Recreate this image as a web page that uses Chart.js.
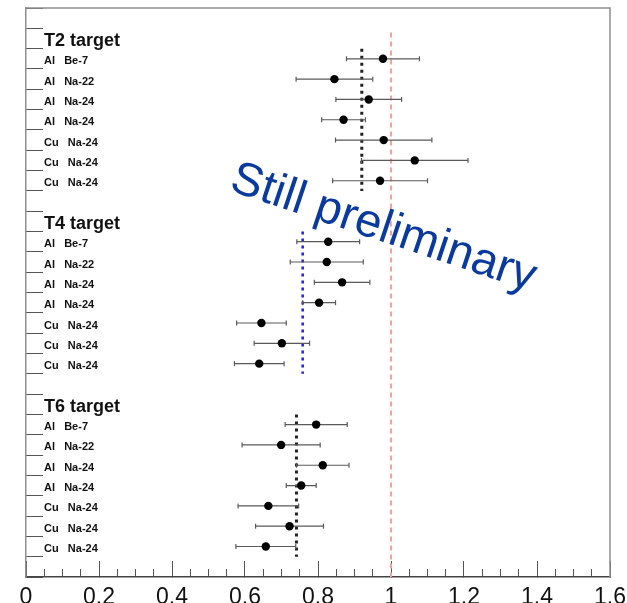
<!DOCTYPE html>
<html>
<head>
<meta charset="utf-8">
<script src="https://cdn.jsdelivr.net/npm/chart.js@4"></script>
<style>
  html, body { margin: 0; padding: 0; background: #fff; }
  #wrap { width: 627px; height: 603px; position: relative; }
</style>
</head>
<body>
<div id="wrap"><canvas id="chart"></canvas></div>
<script>
// group headers and rows (same row list in each group)
const groupNames = ["T2 target", "T4 target", "T6 target"]
const rowLabels = ["Al   Be-7", "Al   Na-22", "Al   Na-24", "Al   Na-24", "Cu   Na-24", "Cu   Na-24", "Cu   Na-24"]

// ratios and their errors
const t2Values = [0.978, 0.845, 0.939, 0.870, 0.980, 1.065, 0.970]
const t2Errors = [0.100, 0.105, 0.090, 0.060, 0.132, 0.146, 0.130]
const t4Values = [0.828, 0.824, 0.866, 0.803, 0.645, 0.701, 0.639]
const t4Errors = [0.086, 0.100, 0.076, 0.045, 0.068, 0.076, 0.068]
const t6Values = [0.795, 0.699, 0.813, 0.754, 0.664, 0.722, 0.657]
const t6Errors = [0.085, 0.107, 0.072, 0.041, 0.083, 0.093, 0.082]

// group averages (dashed lines) and the reference ratio
const groupMeans = [0.920, 0.758, 0.741]
const referenceRatio = 1

const xTicksMajor = 0.2
const xTicksMinor = 0.05

const FONT = "'Liberation Sans', Arial, sans-serif"
const groupValues = [t2Values, t4Values, t6Values]
const groupErrors = [t2Errors, t4Errors, t6Errors]
const rowsPerGroup = rowLabels.length
const binsPerGroup = rowsPerGroup + 2
const totalBins = groupNames.length * binsPerGroup + 1

// category labels, one per bin, top to bottom
const binLabels = [""]
const headerBins = []
groupNames.forEach((name) => {
  headerBins.push(binLabels.length)
  binLabels.push(name)
  rowLabels.forEach((r) => binLabels.push(r))
  binLabels.push("")
})
while (binLabels.length > totalBins) binLabels.pop()

const points = []
const errorBars = []
groupValues.forEach((vals, g) => {
  vals.forEach((v, i) => {
    const y = headerBins[g] + 1 + i + 0.5
    const e = groupErrors[g][i]
    points.push({ x: v, y })
    errorBars.push({ x: v - e, y }, { x: v + e, y }, { x: v, y: null })
  })
})

const meanLine = (g) => {
  const top = headerBins[g] + 1
  return [{ x: groupMeans[g], y: top }, { x: groupMeans[g], y: top + rowsPerGroup }]
}

const fixBox = (w, h) => (scale) => {
  if (w !== null) scale.width = w
  if (h !== null) scale.height = h
  scale.paddingLeft = scale.paddingRight = scale.paddingTop = scale.paddingBottom = 0
}

const framePlugin = {
  id: "frame",
  beforeDatasetsDraw: (chart) => {
    const { ctx, chartArea: a } = chart
    ctx.save()
    ctx.strokeStyle = "#8f8f8f"
    ctx.lineWidth = 1.5
    ctx.beginPath()
    ctx.moveTo(a.left, a.top)
    ctx.lineTo(a.right, a.top)
    ctx.lineTo(a.right, a.bottom)
    ctx.stroke()
    ctx.restore()
  },
}

const watermarkPlugin = {
  id: "watermark",
  afterDatasetsDraw: (chart) => {
    const ctx = chart.ctx
    ctx.save()
    ctx.translate(228, 190)
    ctx.rotate((18.5 * Math.PI) / 180)
    ctx.font = `47px ${FONT}`
    ctx.fillStyle = "#0a3a9e"
    ctx.textAlign = "left"
    ctx.textBaseline = "alphabetic"
    ctx.fillText("Still preliminary", 0, 0)
    ctx.restore()
  },
}

new Chart(document.getElementById("chart"), {
  type: "scatter",
  data: {
    datasets: [
      {
        type: "scatter",
        data: points,
        pointRadius: 4.2,
        pointHoverRadius: 4.2,
        backgroundColor: "#000",
        borderWidth: 0,
      },
      {
        type: "line",
        data: errorBars,
        borderColor: "#5a5a5a",
        borderWidth: 1.2,
        pointStyle: "line",
        pointRotation: 90,
        pointRadius: 2.5,
        pointBorderColor: "#5a5a5a",
        pointBorderWidth: 1.2,
        spanGaps: false,
      },
      {
        type: "line",
        data: meanLine(0),
        borderColor: "#222",
        borderWidth: 3,
        borderDash: [3, 4],
        pointRadius: 0,
      },
      {
        type: "line",
        data: meanLine(1),
        borderColor: "#1a1aff",
        borderWidth: 2.5,
        borderDash: [3, 4],
        pointRadius: 0,
      },
      {
        type: "line",
        data: meanLine(2),
        borderColor: "#222",
        borderWidth: 3,
        borderDash: [3, 4],
        pointRadius: 0,
      },
      {
        type: "line",
        data: [{ x: referenceRatio, y: 1.2 }, { x: referenceRatio, y: totalBins }],
        borderColor: "#ff9c9c",
        borderWidth: 2,
        borderDash: [5, 4],
        pointRadius: 0,
      },
    ],
  },
  options: {
    responsive: true,
    maintainAspectRatio: false,
    animation: false,
    layout: { padding: { top: 8, right: 17, left: 0, bottom: 0 } },
    plugins: { legend: { display: false }, tooltip: { enabled: false } },
    scales: {
      x: {
        type: "linear",
        position: "bottom",
        min: 0,
        max: 1.6,
        weight: 1,
        afterFit: fixBox(null, 26),
        ticks: {
          stepSize: xTicksMajor,
          maxTicksLimit: 100,
          autoSkip: false,
          maxRotation: 0,
          padding: 23,
          color: "#111",
          font: { family: FONT, size: 23 },
          callback: (v) => String(Number(v.toFixed(2))),
        },
        grid: { drawOnChartArea: false, tickLength: -16, tickColor: "#555", tickWidth: 1 },
        border: { color: "#444", width: 1.5 },
      },
      xMinor: {
        type: "linear",
        position: "bottom",
        min: 0,
        max: 1.6,
        weight: 0,
        afterFit: fixBox(null, 0),
        ticks: { display: false, stepSize: xTicksMinor, maxTicksLimit: 100 },
        grid: { drawOnChartArea: false, tickLength: -8, tickColor: "#555", tickWidth: 1 },
        border: { display: false },
      },
      y: {
        type: "linear",
        position: "left",
        reverse: true,
        min: 0,
        max: totalBins,
        weight: 1,
        afterFit: fixBox(26, null),
        ticks: { display: false, stepSize: 1, maxTicksLimit: 100 },
        grid: { drawOnChartArea: false, tickLength: -17, tickColor: "#555", tickWidth: 1 },
        border: { color: "#8f8f8f", width: 1.5 },
      },
      yLabels: {
        type: "category",
        position: "left",
        labels: binLabels,
        offset: true,
        weight: 0,
        afterFit: fixBox(0, null),
        grid: { display: false },
        border: { display: false },
        ticks: {
          mirror: true,
          autoSkip: false,
          padding: 18,
          labelOffset: 2.5,
          color: "#111",
          font: (c) =>
            headerBins.includes(c.index)
              ? { family: FONT, size: 18, weight: "bold" }
              : { family: FONT, size: 11, weight: "bold" },
        },
      },
    },
  },
  plugins: [framePlugin, watermarkPlugin],
})
</script>
</body>
</html>
